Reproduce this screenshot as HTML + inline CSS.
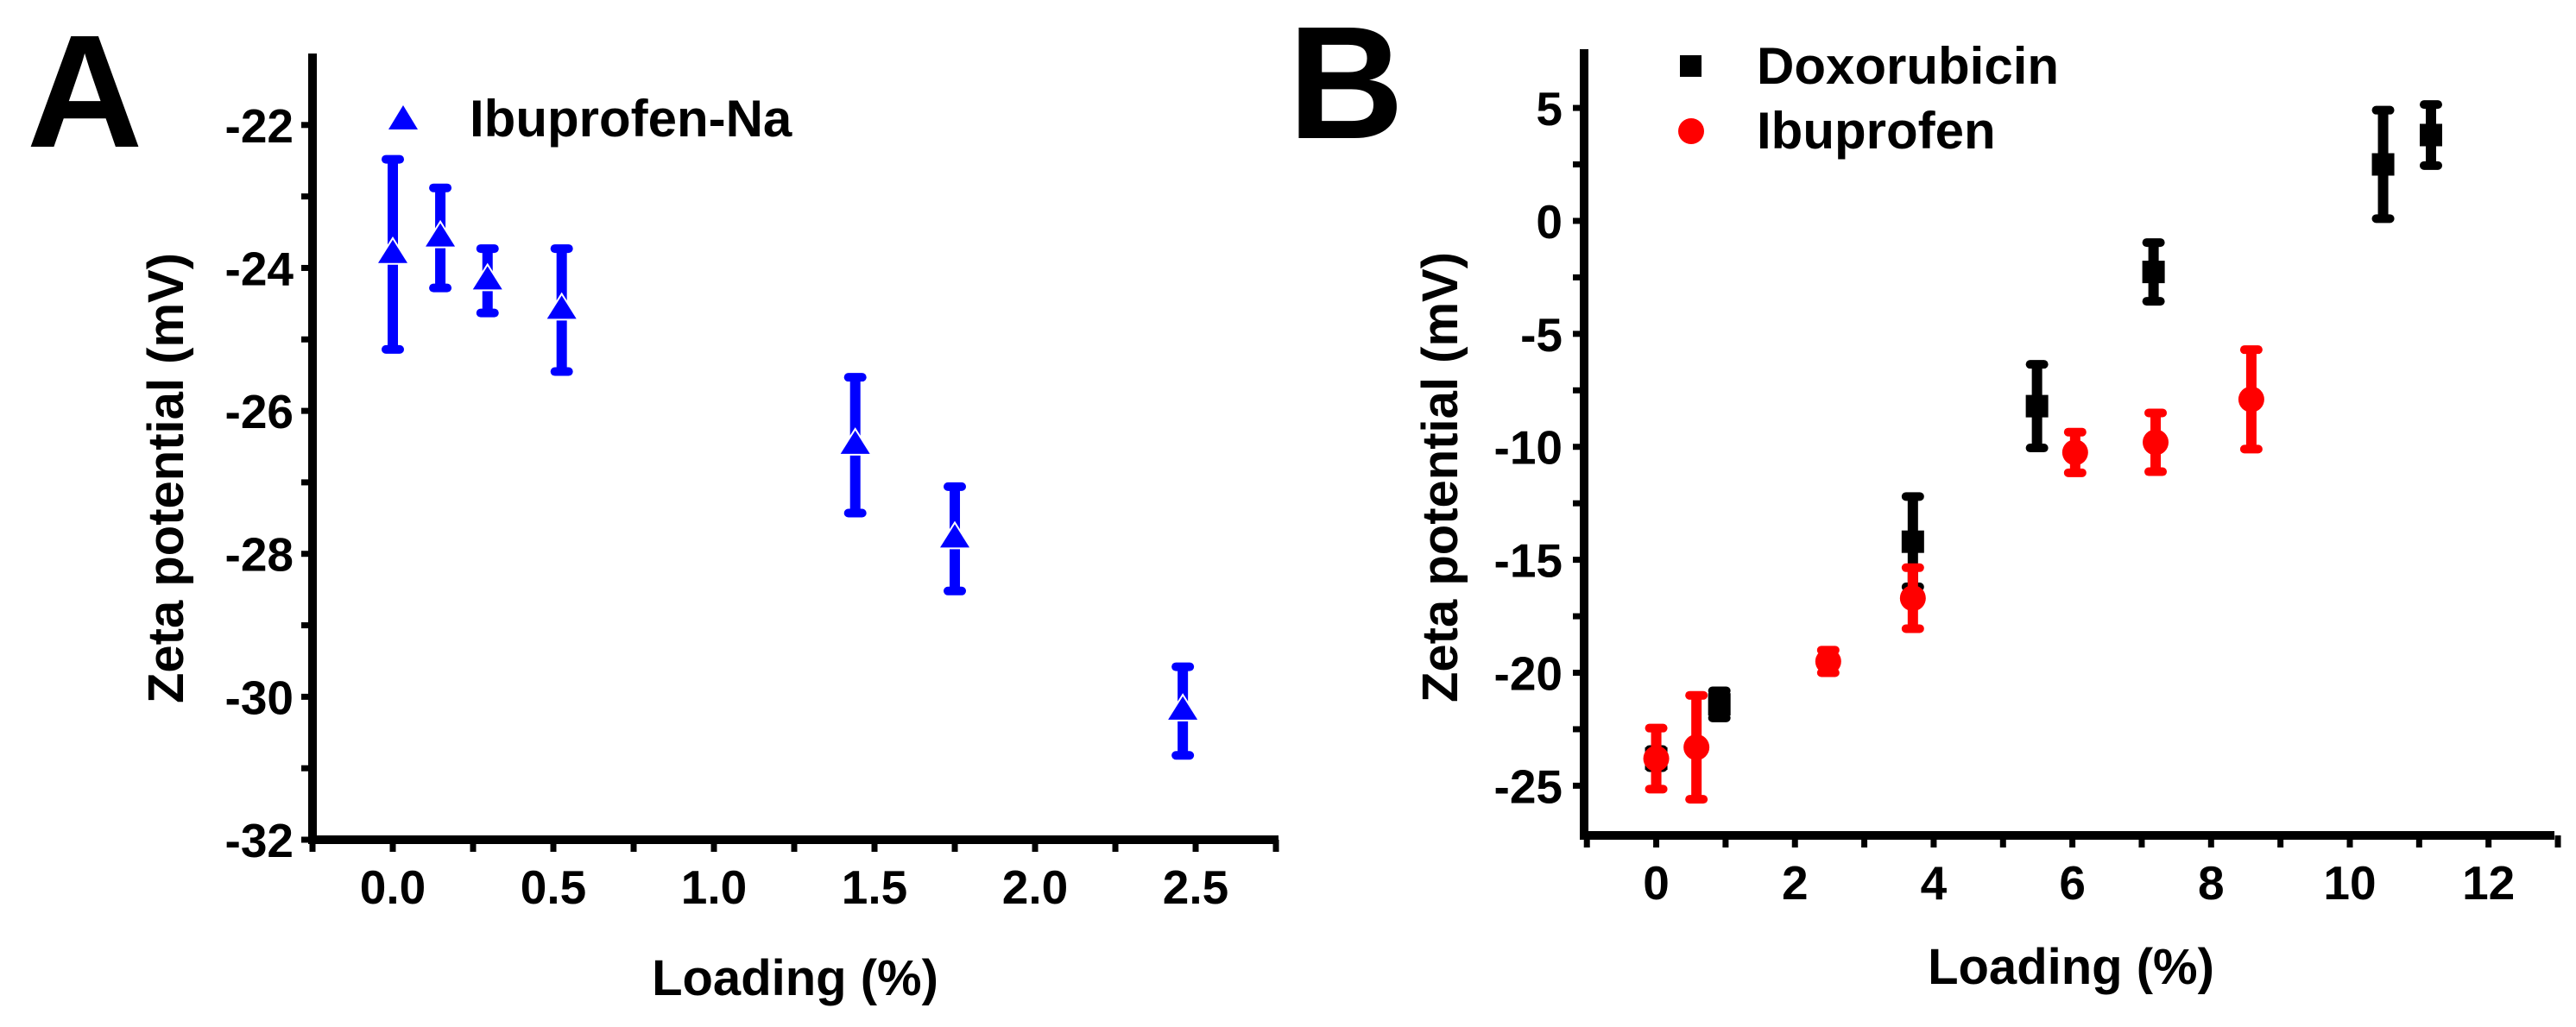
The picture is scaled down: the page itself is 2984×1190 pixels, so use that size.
<!DOCTYPE html>
<html><head><meta charset="utf-8">
<style>
html,body{margin:0;padding:0;background:#fff;overflow:hidden;}
svg{display:block;font-family:"Liberation Sans",Arial,sans-serif;font-weight:bold;}
</style></head>
<body>
<svg id="fig" width="2984" height="1190" viewBox="0 0 2984 1190" xmlns="http://www.w3.org/2000/svg">
<g id="pa"></g>
<g id="pb"></g>
</svg>
<script>
// Panel A data
const aLoading = [0.0, 0.148, 0.295, 0.526, 1.44, 1.75, 2.46];
const aZeta = [-23.81, -23.58, -24.18, -24.59, -26.48, -27.79, -30.2];
const aErr = [1.33, 0.7, 0.45, 0.86, 0.95, 0.73, 0.62];
const aXTicks = ["0.0","0.5","1.0","1.5","2.0","2.5"];
const aYTicks = ["-32","-30","-28","-26","-24","-22"];
// Panel B data
const doxLoading = [0.0, 0.91, 3.7, 5.49, 7.17, 10.48, 11.17];
const doxZeta = [-23.8, -21.4, -14.2, -8.2, -2.26, 2.5, 3.8];
const doxErr = [0.4, 0.6, 2.0, 1.85, 1.3, 2.4, 1.35];
const ibuLoading = [0.0, 0.58, 2.48, 3.7, 6.04, 7.2, 8.58];
const ibuZeta = [-23.8, -23.3, -19.5, -16.7, -10.25, -9.8, -7.9];
const ibuErr = [1.35, 2.3, 0.5, 1.35, 0.9, 1.3, 2.2];
const bXTicks = ["0","2","4","6","8","10","12"];
const bYTicks = ["-25","-20","-15","-10","-5","0","5"];

const NS="http://www.w3.org/2000/svg";
function mk(tag, attrs, parent){const e=document.createElementNS(NS,tag);for(const k in attrs)e.setAttribute(k,attrs[k]);parent.appendChild(e);return e;}

function axes(g, o){
  const sx=v=>o.x0+(v-o.xmin)/(o.xmax-o.xmin)*(o.x1-o.x0);
  const sy=v=>o.y0-(v-o.ymin)/(o.ymax-o.ymin)*(o.y0-o.y1);
  const ax=mk('line',{x1:o.x0,y1:o.y1,x2:o.x0,y2:o.y0+5,stroke:'#000','stroke-width':10},g);
  
  
  const axx=mk('line',{x1:o.x0-5,y1:o.y0,x2:o.x1,y2:o.y0,stroke:'#000','stroke-width':10},g);
  
  
  return {sx,sy};
}

function errbar(g, x, yt, yb, color){
  const l=mk('line',{x1:x,y1:yt,x2:x,y2:yb,stroke:color,'stroke-width':12},g);
  
  
  for(const yy of [yt,yb]){
    const c=mk('rect',{x:x-13,y:yy-5,width:26,height:10,rx:5,fill:color},g);
    
    
  }
}

// ---------- Panel A ----------
(function(){
  const g=document.getElementById('pa');
  const o={x0:362,x1:1481,y0:973,y1:62,xmin:-0.25,xmax:2.758,ymin:-32,ymax:-21.0};
  const {sx,sy}=axes(g,o);
  for(let v=-32; v<=-22; v+=1){
    const t=mk('line',{x1:o.x0-13,y1:sy(v),x2:o.x0,y2:sy(v),stroke:'#000','stroke-width':7},g);
    
    
  }
  aYTicks.forEach(s=>{
    const v=parseFloat(s);
    const t=mk('text',{x:340,y:sy(v)+20,'text-anchor':'end','font-size':55},g);
    t.textContent=s;
    
    
  });
  for(let v=-0.25; v<=2.76; v+=0.25){
    const t=mk('line',{x1:sx(v),y1:o.y0,x2:sx(v),y2:o.y0+14,stroke:'#000','stroke-width':7},g);
    
    
  }
  aXTicks.forEach(s=>{
    const t=mk('text',{x:sx(parseFloat(s)),y:1047,'text-anchor':'middle','font-size':55},g);
    t.textContent=s;
    
    
  });
  aLoading.forEach((x,i)=>{
    const px=sx(x), py=sy(aZeta[i]);
    errbar(g,px,sy(aZeta[i]+aErr[i]),sy(aZeta[i]-aErr[i]),'#0000ff');
    const m=mk('polygon',{points:`${px},${py-17} ${px-17},${py+10} ${px+17},${py+10}`,fill:'#0000ff',stroke:'#fff','stroke-width':4,'paint-order':'stroke'},g);
    
    
  });
  const lt=mk('polygon',{points:'467,122 450,150 484,150',fill:'#0000ff'},g);
  
  
  const lx=mk('text',{x:544,y:158,'font-size':60},g);
  lx.textContent='Ibuprofen-Na';
  
  
  const xt=mk('text',{x:921,y:1153,'text-anchor':'middle','font-size':58},g);
  xt.textContent='Loading (%)';
  
  
  const yt=mk('text',{x:0,y:0,'text-anchor':'middle','font-size':58,transform:'translate(212,554) rotate(-90)'},g);
  yt.textContent='Zeta potential (mV)';
  
  
  const pl=mk('text',{x:31,y:170,'font-size':186},g);
  pl.textContent='A';
  
  
})();

// ---------- Panel B ----------
(function(){
  const g=document.getElementById('pb');
  const o={x0:1835,x1:2959,y0:968,y1:57,xmin:-1.04,xmax:12.95,ymin:-27.2,ymax:7.6};
  const {sx,sy}=axes(g,o);
  for(let v=-25; v<=5; v+=2.5){
    const t=mk('line',{x1:o.x0-13,y1:sy(v),x2:o.x0,y2:sy(v),stroke:'#000','stroke-width':7},g);
    
    
  }
  bYTicks.forEach(s=>{
    const v=parseFloat(s);
    const t=mk('text',{x:1810,y:sy(v)+20,'text-anchor':'end','font-size':55},g);
    t.textContent=s;
    
    
  });
  for(let v=-1; v<=13; v+=1){
    const t=mk('line',{x1:sx(v),y1:o.y0,x2:sx(v),y2:o.y0+14,stroke:'#000','stroke-width':7},g);
    
    
  }
  bXTicks.forEach(s=>{
    const t=mk('text',{x:sx(parseFloat(s)),y:1042,'text-anchor':'middle','font-size':55},g);
    t.textContent=s;
    
    
  });
  doxLoading.forEach((x,i)=>{
    const px=sx(x), py=sy(doxZeta[i]);
    errbar(g,px,sy(doxZeta[i]+doxErr[i]),sy(doxZeta[i]-doxErr[i]),'#000');
    const m=mk('rect',{x:px-13,y:py-13,width:26,height:26,fill:'#000'},g);
    
    
  });
  ibuLoading.forEach((x,i)=>{
    const px=sx(x), py=sy(ibuZeta[i]);
    errbar(g,px,sy(ibuZeta[i]+ibuErr[i]),sy(ibuZeta[i]-ibuErr[i]),'#ff0000');
    const m=mk('circle',{cx:px,cy:py,r:15,fill:'#ff0000'},g);
    
    
  });
  const ls=mk('rect',{x:1946,y:64,width:25,height:25,fill:'#000'},g);
  
  
  const l1=mk('text',{x:2035,y:97,'font-size':60},g);
  l1.textContent='Doxorubicin';
  
  
  const lc=mk('circle',{cx:1959,cy:152,r:15,fill:'#ff0000'},g);
  
  
  const l2=mk('text',{x:2035,y:172,'font-size':60},g);
  l2.textContent='Ibuprofen';
  
  
  const xt=mk('text',{x:2399,y:1140,'text-anchor':'middle','font-size':58},g);
  xt.textContent='Loading (%)';
  
  
  const yt=mk('text',{x:0,y:0,'text-anchor':'middle','font-size':58,transform:'translate(1688,553) rotate(-90)'},g);
  yt.textContent='Zeta potential (mV)';
  
  
  const pl=mk('text',{x:1492,y:160,'font-size':186},g);
  pl.textContent='B';
  
  
})();
</script>
</body></html>
